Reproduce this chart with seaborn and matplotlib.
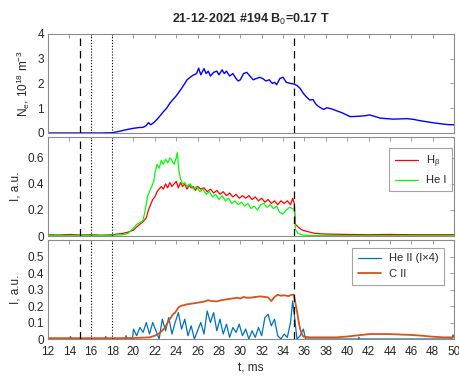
import matplotlib
matplotlib.use("Agg")
import matplotlib.pyplot as plt
import seaborn as sns

# density N_e (1e18 m^-3)
ne_t = [12, 14, 16, 17, 18, 18.5, 19, 19.5, 20, 20.5, 20.9, 21.2, 21.4, 21.6, 21.9, 22.2, 22.5, 22.8,
        23.1, 23.4, 23.7, 24.0, 24.2, 24.5, 24.8, 25.0, 25.3, 25.6, 25.9, 26.1, 26.3, 26.6, 26.8, 27.0,
        27.2, 27.5, 27.8, 28.0, 28.3, 28.5, 28.7, 29.0, 29.3, 29.6, 29.8, 30.0, 30.3, 30.6, 30.9, 31.2,
        31.5, 31.8, 32.1, 32.4, 32.7, 33.0, 33.2, 33.4, 33.7, 34.0, 34.3, 34.7, 35.0, 35.3, 35.6, 35.9,
        36.2, 36.5, 36.8, 37.1, 37.4, 37.8, 38.1, 38.5, 39.0, 39.5, 40.0, 40.3, 40.8, 41.2, 41.7, 42.1,
        42.5, 43.1, 43.7, 44.3, 45.0, 45.6, 46.2, 46.8, 47.5, 48.1, 48.8, 49.4, 50]
ne = [0, 0, 0, 0, 0.01, 0.05, 0.1, 0.15, 0.19, 0.22, 0.23, 0.3, 0.42, 0.33, 0.42, 0.55, 0.7, 0.86,
      1.0, 1.2, 1.35, 1.5, 1.62, 1.8, 2.0, 2.14, 2.25, 2.34, 2.4, 2.62, 2.35, 2.6, 2.4, 2.5,
      2.3, 2.45, 2.5, 2.35, 2.55, 2.4, 2.5, 2.3, 2.4, 2.2, 2.1, 2.15, 2.4, 2.45, 2.3, 2.15,
      2.2, 2.25, 2.2, 2.1, 2.15, 2.0, 2.05, 1.95, 2.2, 2.25, 2.05, 2.0, 1.98, 1.92, 1.8, 1.6,
      1.45, 1.33, 1.35, 1.15, 1.05, 0.95, 1.02, 0.98, 0.9, 0.82, 0.72, 0.66, 0.67, 0.68, 0.7, 0.73,
      0.68, 0.6, 0.58, 0.56, 0.57, 0.58, 0.55, 0.5, 0.45, 0.41, 0.37, 0.34, 0.33]

# H beta
hb_t = [12, 13, 14, 15, 16, 17, 18, 18.5, 19, 19.5, 20, 20.3, 20.6, 20.9, 21.2, 21.4, 21.6, 21.8,
        22.0, 22.2, 22.4, 22.6, 22.8, 23.0, 23.2, 23.4, 23.6, 23.8, 24.0, 24.2, 24.4, 24.6, 24.8,
        25.0, 25.2, 25.4, 25.6, 25.8, 26.0, 26.3, 26.6, 26.9, 27.2, 27.5, 27.8, 28.1, 28.4, 28.7,
        29.0, 29.3, 29.6, 29.9, 30.2, 30.5, 30.8, 31.1, 31.4, 31.7, 32.0, 32.3, 32.6, 32.9, 33.2,
        33.5, 33.8, 34.1, 34.4, 34.7, 34.9, 35.05, 35.15, 35.4, 35.7, 36.0, 36.5, 37.0, 38, 40, 42,
        44, 46, 48, 50]
hb = [0.01, 0.008, 0.012, 0.008, 0.01, 0.006, 0.01, 0.015, 0.02, 0.03, 0.045, 0.07, 0.09, 0.11,
      0.14, 0.2, 0.24, 0.28, 0.3, 0.34, 0.36, 0.38, 0.36, 0.4, 0.37, 0.41, 0.38, 0.4, 0.42, 0.37,
      0.41, 0.38, 0.4, 0.36, 0.39, 0.37, 0.38, 0.35, 0.38, 0.36, 0.37, 0.34, 0.36, 0.33, 0.35, 0.32,
      0.34, 0.31, 0.33, 0.3, 0.32, 0.29, 0.31, 0.29, 0.31, 0.28, 0.3, 0.27, 0.29, 0.26, 0.28, 0.25,
      0.27, 0.24, 0.27, 0.25, 0.27, 0.24, 0.29, 0.25, 0.09, 0.07, 0.05, 0.04, 0.03, 0.02, 0.015,
      0.012, 0.01, 0.012, 0.01, 0.01, 0.01]

# He I
hei_t = [12, 14, 16, 18, 19, 19.5, 20, 20.3, 20.6, 20.9, 21.1, 21.3, 21.5, 21.7, 21.9, 22.0, 22.2,
         22.4, 22.6, 22.8, 23.0, 23.2, 23.4, 23.6, 23.8, 24.0, 24.1, 24.25, 24.4, 24.6, 24.8, 25.0,
         25.3, 25.6, 25.9, 26.2, 26.5, 26.8, 27.1, 27.4, 27.7, 28.0, 28.3, 28.6, 28.9, 29.2, 29.5,
         29.8, 30.1, 30.4, 30.7, 31.0, 31.3, 31.6, 31.9, 32.2, 32.5, 32.8, 33.1, 33.4, 33.7, 34.0,
         34.3, 34.6, 34.9, 35.05, 35.15, 35.4, 35.8, 36.5, 40, 45, 50]
hei = [0.005, 0.004, 0.005, 0.005, 0.01, 0.02, 0.06, 0.09, 0.1, 0.12, 0.2, 0.3, 0.34, 0.38, 0.42,
       0.48, 0.55, 0.52, 0.58, 0.55, 0.59, 0.56, 0.6, 0.58, 0.55, 0.6, 0.64, 0.5, 0.44, 0.4, 0.41,
       0.38, 0.4, 0.36, 0.38, 0.34, 0.36, 0.32, 0.34, 0.3, 0.32, 0.28, 0.31, 0.27, 0.29, 0.25, 0.27,
       0.24, 0.26, 0.23, 0.25, 0.21, 0.23, 0.2, 0.24, 0.25, 0.22, 0.24, 0.21, 0.23, 0.18, 0.17,
       0.2, 0.22, 0.21, 0.2, 0.05, 0.02, 0.008, 0.004, 0.003, 0.003, 0.003]

# He II (x4)
heii_t = [12, 14.0, 14.1, 14.2, 17.3, 17.4, 17.5, 19.2, 19.3, 19.4, 19.9, 20.0, 20.3, 20.6, 20.9,
          21.2, 21.5, 21.8, 22.1, 22.4, 22.7, 23.0, 23.3, 23.6, 23.9, 24.2, 24.5, 24.8, 25.1, 25.4,
          25.7, 26.0, 26.3, 26.6, 26.9, 27.2, 27.5, 27.8, 28.1, 28.4, 28.7, 29.0, 29.3, 29.6, 29.9,
          30.2, 30.5, 30.8, 31.1, 31.4, 31.7, 32.0, 32.3, 32.6, 32.9, 33.2, 33.5, 33.8, 34.1, 34.4,
          34.7, 34.9, 35.1, 35.3, 35.6, 35.9, 36.1, 36.5, 41, 41.1, 41.2, 49.8, 49.9, 50]
heii = [0, 0, 0.015, 0, 0, 0.015, 0, 0, 0.02, 0, 0, 0.06, 0.02, 0.07, 0.04, 0.1, 0.03, 0.1, 0.05,
        0.0, 0.12, 0.05, 0.13, 0.03, 0.1, 0.16, 0.06, 0.12, 0.02, 0.08, 0.0, 0.05, 0.1, 0.03, 0.17,
        0.1, 0.16, 0.05, 0.12, 0.03, 0.09, 0.01, 0.07, 0.04, 0.09, 0.02, 0.06, 0.0, 0.05, 0.01,
        0.07, 0.02, 0.13, 0.15, 0.08, 0.12, 0.02, 0.0, 0.03, 0.01, 0.1, 0.23, 0.12, 0.0, 0.02,
        0.06, 0.0, 0.0, 0, 0.01, 0, 0, 0.025, 0.01]

# C II
cii_t = [12, 15, 18, 20, 21.5, 22.0, 22.3, 22.6, 22.95, 23.2, 23.4, 23.7, 23.9, 24.2, 24.4, 24.7,
         25.0, 25.5, 26.0, 26.5, 27.0, 27.3, 27.8, 28.2, 28.7, 29.2, 29.7, 30.0, 30.3, 30.6, 30.9,
         31.4, 31.9, 32.3, 32.6, 32.9, 33.2, 33.5, 33.8, 34.1, 34.5, 34.8, 35.0, 35.15, 35.3, 35.45,
         35.6, 35.75, 35.9, 36.5, 38, 39, 40, 41, 42.1, 43, 44, 45, 45.9, 47, 47.8, 49, 50]
cii = [0.005, 0.005, 0.005, 0.006, 0.01, 0.02, 0.03, 0.045, 0.07, 0.1, 0.12, 0.15, 0.16, 0.19, 0.2,
       0.205, 0.21, 0.215, 0.22, 0.225, 0.235, 0.23, 0.228, 0.235, 0.24, 0.245, 0.25, 0.245, 0.255,
       0.25, 0.25, 0.255, 0.258, 0.255, 0.252, 0.23, 0.255, 0.268, 0.262, 0.265, 0.26, 0.268, 0.268,
       0.22, 0.17, 0.11, 0.06, 0.03, 0.015, 0.01, 0.01, 0.01, 0.015, 0.022, 0.03, 0.03, 0.03, 0.027,
       0.025, 0.02, 0.015, 0.01, 0.01]

dashed_t = [15, 35]
dotted_t = [16, 18]
xticks = list(range(12, 51, 2))

sns.set_style("white")
plt.rcParams["font.family"] = ["Liberation Sans", "DejaVu Sans"]
plt.rcParams["mathtext.fontset"] = "custom"
plt.rcParams["mathtext.rm"] = "Liberation Sans"
plt.rcParams["mathtext.it"] = "Liberation Sans"

frame = "#8c8c8c"
txt = "#262626"

fig = plt.figure(figsize=(4.59, 3.76), dpi=100)
ax1 = fig.add_axes([0.1046, 0.6463, 0.8845, 0.2633])
ax2 = fig.add_axes([0.1046, 0.3723, 0.8845, 0.2633])
ax3 = fig.add_axes([0.1046, 0.0984, 0.8845, 0.2633])

sns.lineplot(x=ne_t, y=ne, ax=ax1, color="#0000ff", linewidth=1.0, estimator=None)
sns.lineplot(x=hb_t, y=hb, ax=ax2, color="#ff0000", linewidth=0.9, estimator=None, label=r"H$_\beta$")
sns.lineplot(x=hei_t, y=hei, ax=ax2, color="#00ff00", linewidth=0.9, estimator=None, label="He I")
sns.lineplot(x=heii_t, y=heii, ax=ax3, color="#0072bd", linewidth=0.9, estimator=None, label="He II (I\u00d74)")
sns.lineplot(x=cii_t, y=cii, ax=ax3, color="#d95319", linewidth=1.3, estimator=None, label="C II")

for ax in (ax1, ax2, ax3):
    for t in dashed_t:
        ax.axvline(t, color="black", linewidth=0.9, dashes=(6, 4))
    for t in dotted_t:
        ax.axvline(t, color="black", linewidth=0.8, dashes=(1, 1.6))
    ax.set_xlim(12, 50)
    ax.set_xticks(xticks)
    ax.tick_params(direction="in", length=3, width=0.6, color=frame, labelcolor=txt,
                   labelsize=8.5, top=True, right=True, pad=3)
    ax.tick_params(axis="x", pad=5)
    for s in ax.spines.values():
        s.set_color(frame)
        s.set_linewidth(0.8)
    ax.set_xlabel("")

ax1.set_ylim(0, 4)
ax1.set_yticks([0, 1, 2, 3, 4])
ax1.tick_params(labelbottom=False)
ax1.set_ylabel(r"N$_e$, 10$^{18}$ m$^{-3}$", fontsize=8.5, color=txt, labelpad=4)
ax1.set_title(r"21-12-2021 #194 B$_0$=0.17 T", fontsize=9, fontweight="bold", pad=8)

ax2.set_ylim(0, 0.76)
ax2.set_yticks([0, 0.2, 0.4, 0.6])
ax2.set_yticklabels(["0", "0.2", "0.4", "0.6"])
ax2.tick_params(labelbottom=False)
ax2.set_ylabel("I, a.u.", fontsize=8.5, color=txt, labelpad=4)

ax3.set_ylim(0, 0.6)
ax3.set_yticks([0, 0.1, 0.2, 0.3, 0.4, 0.5])
ax3.set_yticklabels(["0", "0.1", "0.2", "0.3", "0.4", "0.5"])
ax3.set_ylabel("I, a.u.", fontsize=8.5, color=txt, labelpad=4)
ax3.set_xlabel("t, ms", fontsize=8.5, color=txt, labelpad=3)

for ax, anchor in ((ax2, (0.995, 0.89)), (ax3, (0.975, 0.92))):
    leg = ax.legend(loc="upper right", bbox_to_anchor=anchor, borderaxespad=0, fontsize=8,
                    frameon=True, fancybox=False, edgecolor=frame, handlelength=2.1,
                    borderpad=0.5, labelspacing=0.5, handletextpad=0.7)
    leg.get_frame().set_linewidth(0.8)
    for text in leg.get_texts():
        text.set_color(txt)

fig.savefig("out.png", dpi=100)
